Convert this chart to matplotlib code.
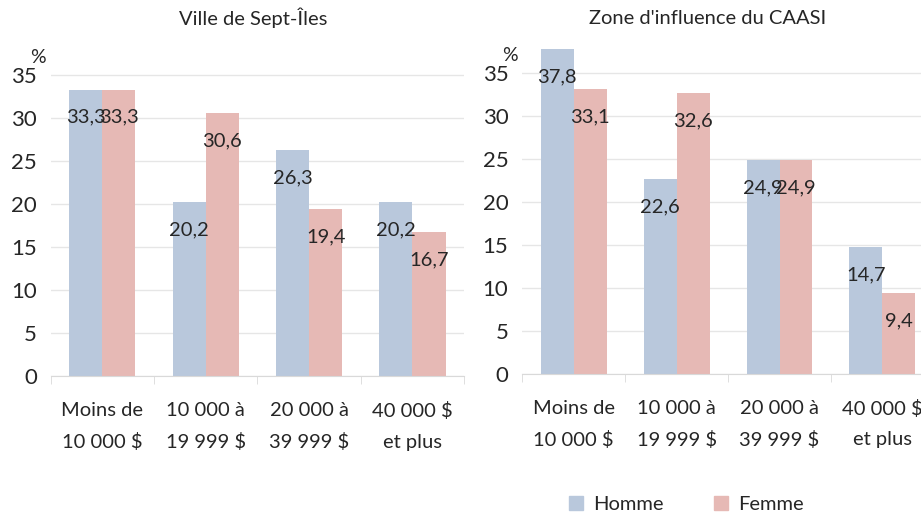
import matplotlib
matplotlib.use("Agg")
import matplotlib.pyplot as plt
import numpy as np
from matplotlib.patches import Patch

plt.rcParams['font.family'] = ['Lato', 'DejaVu Sans']

# data
categories = ["Moins de\n10 000 $", "10 000 à\n19 999 $", "20 000 à\n39 999 $", "40 000 $\net plus"]
ville_homme = [33.3, 20.2, 26.3, 20.2]
ville_femme = [33.3, 30.6, 19.4, 16.7]
zone_homme = [37.8, 22.6, 24.9, 14.7]
zone_femme = [33.1, 32.6, 24.9, 9.4]
titles = ["Ville de Sept-Îles", "Zone d'influence du CAASI"]
yticks = [0, 5, 10, 15, 20, 25, 30, 35]

c_homme = "#b9c8dc"
c_femme = "#e6b9b5"
txt = "#262626"
grid = "#e6e6e6"


def fmt(v):
    return f"{v:.1f}".replace(".", ",")


def draw(ax, homme, femme):
    x = np.arange(len(categories))
    w = 0.32
    bh = ax.bar(x - w/2, homme, w, color=c_homme, zorder=2)
    bf = ax.bar(x + w/2, femme, w, color=c_femme, zorder=2)
    for bars in (bh, bf):
        for b in bars:
            ax.annotate(fmt(b.get_height()),
                        (b.get_x() + b.get_width()/2, b.get_height()),
                        xytext=(0, -20), textcoords="offset points",
                        ha="center", va="center", fontsize=14.5, color=txt,
                        zorder=3)
    ax.set_xlim(-0.5, 3.5)
    ax.set_ylim(0, 38)
    ax.set_yticks(yticks)
    ax.yaxis.grid(True, color=grid, lw=1, zorder=0)
    ax.set_axisbelow(True)
    for s in ("top", "right", "left"):
        ax.spines[s].set_visible(False)
    ax.spines["bottom"].set_color("#d9d9d9")
    ax.set_xticks(x)
    ax.set_xticklabels(categories, fontsize=14.5, color=txt, linespacing=1.95)
    ax.set_xticks(np.arange(-0.5, 4, 1), minor=True)
    ax.tick_params(axis="x", which="major", length=0, pad=19)
    ax.tick_params(axis="x", which="minor", length=6, color="#d9d9d9")
    ax.tick_params(axis="y", length=0, labelsize=16, labelcolor=txt, pad=10)
    ax.text(-0.03, 0.975, "%", transform=ax.transAxes, fontsize=14,
            color=txt, ha="center", va="center")


fig = plt.figure(figsize=(9.21, 5.17), dpi=100)
ax1 = fig.add_axes([0.055, 0.273, 0.449, 0.632])
ax2 = fig.add_axes([0.567, 0.277, 0.447, 0.632])
draw(ax1, ville_homme, ville_femme)
draw(ax2, zone_homme, zone_femme)

fig.text(0.275, 0.965, titles[0], ha="center", va="center", fontsize=14.5, color=txt)
fig.text(0.768, 0.965, titles[1], ha="center", va="center", fontsize=14.5, color=txt)

handles = [Patch(color=c_homme, label="Homme"), Patch(color=c_femme, label="Femme")]
fig.legend(handles=handles, loc="center", bbox_to_anchor=(0.745, 0.025), ncol=2,
           frameon=False, fontsize=14.5, handlelength=0.7, handleheight=0.7,
           columnspacing=2.5, handletextpad=0.5, labelcolor=txt)

fig.savefig("out.png", dpi=100)
